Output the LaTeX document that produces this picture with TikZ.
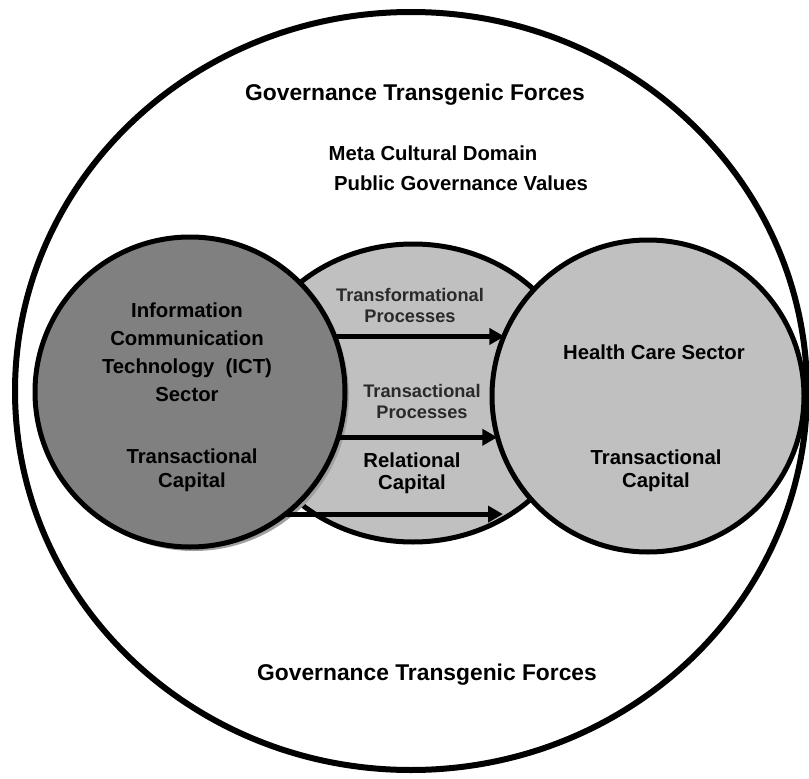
\documentclass[tikz,border=0pt]{standalone}
\usepackage{fontspec}
\setmainfont{Liberation Sans}
\usetikzlibrary{arrows.meta,shapes.geometric,shadows}
\definecolor{darksector}{HTML}{808080}
\definecolor{lightsector}{HTML}{C0C0C0}
\definecolor{shadowgray}{HTML}{A0A0A0}
\definecolor{proclabel}{HTML}{2A2A2A}
\begin{document}
\begin{tikzpicture}[x=1pt,y=-1pt,
  sector/.style={circle,draw=black,line width=5pt,inner sep=0pt,outer sep=0pt},
  flow/.style={line width=5pt,-{Triangle[length=15pt,width=16pt]}},
  txt/.style={font=\bfseries\fontsize{20.3}{24}\selectfont,align=center,inner sep=0pt},
  bigtxt/.style={font=\bfseries\fontsize{22.8}{27}\selectfont,align=center,inner sep=0pt},
  proc/.style={font=\bfseries\fontsize{18.2}{21}\selectfont,align=center,inner sep=0pt,text=proclabel}]
\useasboundingbox (0,0) rectangle (809,779);

% outer domain
\node[ellipse,draw=black,line width=6pt,fill=white,minimum width=792pt,minimum height=758pt,inner sep=0pt] (domain) at (411,391) {};

% sectors
\node[ellipse,draw=black,line width=5pt,inner sep=0pt,outer sep=0pt,fill=lightsector,
      minimum width=336pt,minimum height=298pt] (rel) at (413,393) {};
\node[sector,fill=darksector,minimum size=310pt,
      drop shadow={shadow xshift=4pt,shadow yshift=-4pt,fill=shadowgray,opacity=1}] (ict) at (190,392) {};
\node[sector,fill=lightsector,minimum size=312pt] (health) at (648,396) {};

% flows between sectors
\coordinate (end3) at (503,515);
\draw[flow] (ict.21.6) -- (ict.21.6 -| health.157);
\draw[flow] (ict.-17) -- (ict.-17 -| health.195.5);
\draw[flow] (ict.-52) -- (ict.-52 -| end3);

% texts
\node[bigtxt] (gtop) at (415,95) {Governance Transgenic Forces};
\node[txt] (meta) at (433,153) {Meta Cultural Domain};
\node[txt] (pgv) at (461,183) {Public Governance Values};
\node[bigtxt] (gbot) at (427,675) {Governance Transgenic Forces};

\node[txt,font=\bfseries\fontsize{20.3}{28}\selectfont] (ictname) at (187,352) {Information\\Communication\\Technology~~(ICT)\\Sector};
\node[txt] (ictcap) at (192,470) {Transactional\\Capital};

\node[proc] (tf) at (410,305) {Transformational\\Processes};
\node[proc] (ta) at (422,401) {Transactional\\Processes};
\node[txt,font=\bfseries\fontsize{20.3}{22}\selectfont] (relcap) at (412,473) {Relational\\Capital};

\node[txt] (hname) at (654,352) {Health Care Sector};
\node[txt,font=\bfseries\fontsize{20.3}{23}\selectfont] (hcap) at (656,471) {Transactional\\Capital};
\end{tikzpicture}
\end{document}
